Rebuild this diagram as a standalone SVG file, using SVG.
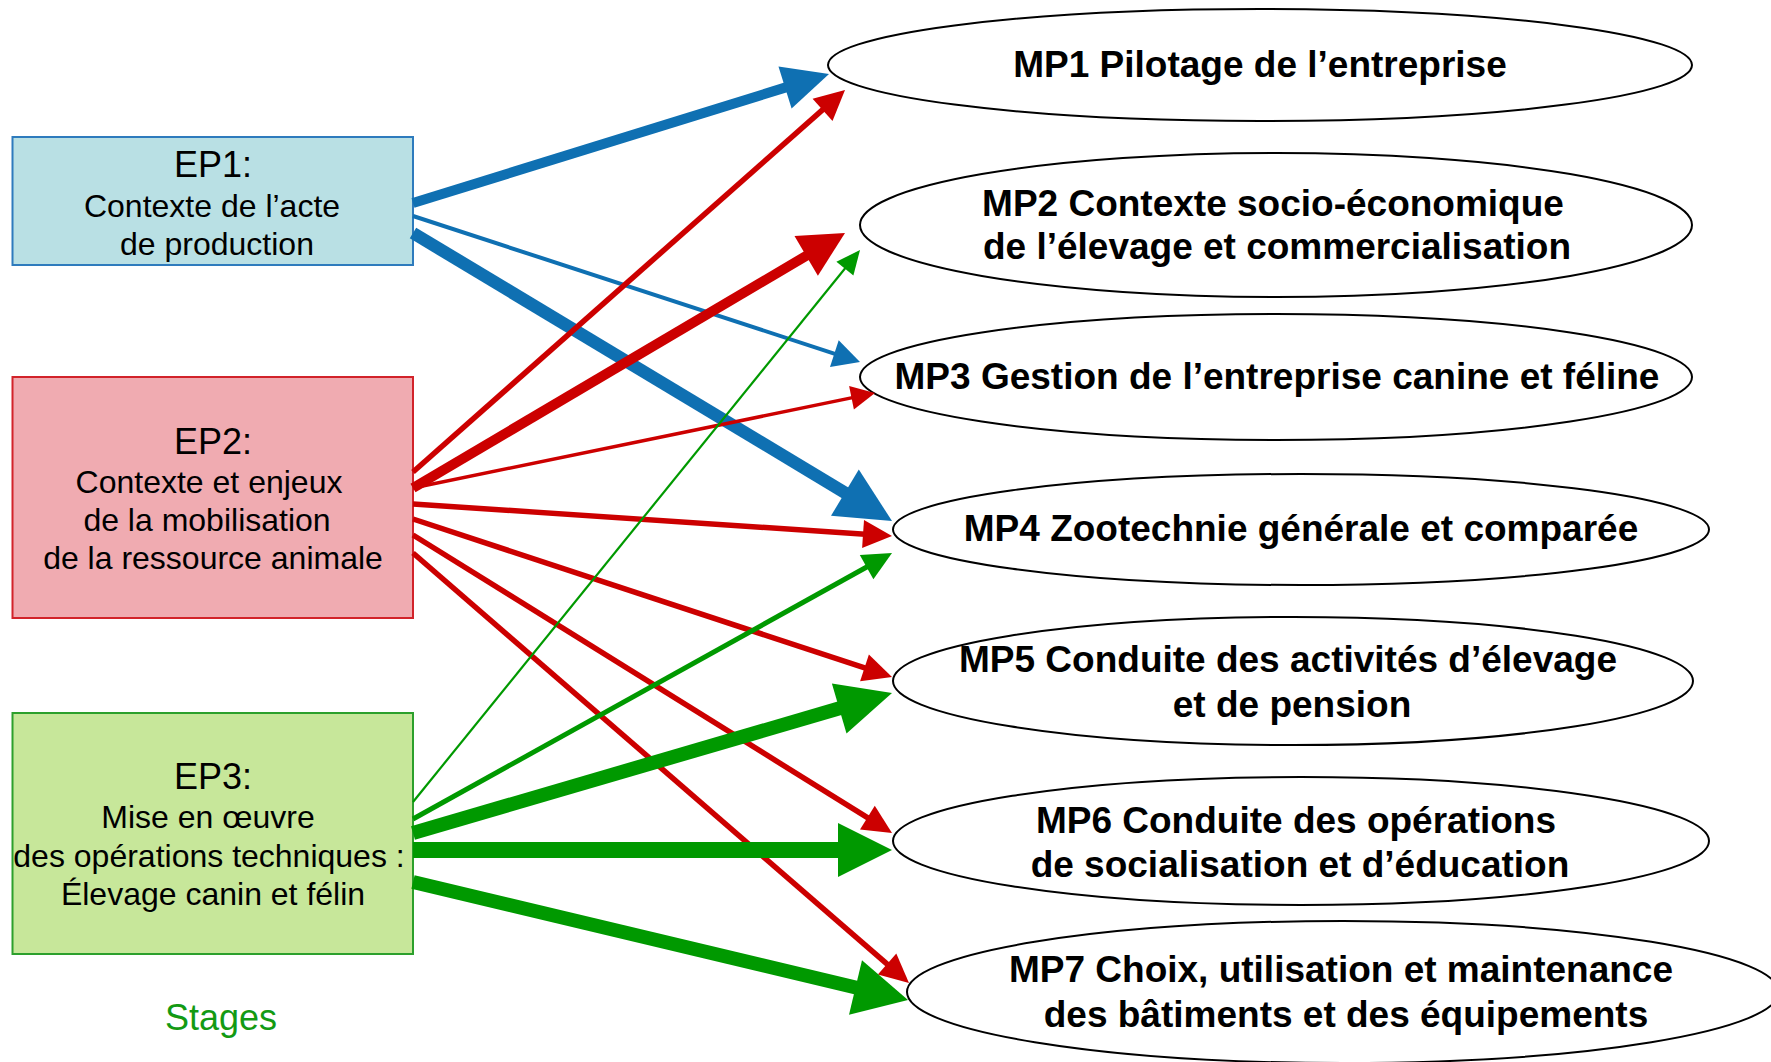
<svg xmlns="http://www.w3.org/2000/svg" width="1771" height="1062" viewBox="0 0 1771 1062">
<style>
.box{stroke-width:2}
.ep{font-family:"Liberation Sans",Arial,sans-serif;font-size:32px;fill:#000;text-anchor:middle}
.ept{font-size:36px}
.mp{fill:#fff;stroke:#000;stroke-width:2}
.mpt{font-family:"Liberation Sans",Arial,sans-serif;font-weight:bold;font-size:37px;fill:#000;text-anchor:middle}
.b{stroke:#0f70b2;fill:none}
.bh{fill:#0f70b2}
.r{stroke:#cc0000;fill:none}
.rh{fill:#cc0000}
.g{stroke:#009900;fill:none}
.gh{fill:#009900}
</style>
<rect width="1771" height="1062" fill="#fff"/>
<g id="EP1">
<rect class="box" x="12.5" y="137" width="400.5" height="128" fill="#b9e0e4" stroke="#2e7bbd"/>
<text class="ep ept" x="213" y="177">EP1:</text>
<text class="ep" x="212" y="217">Contexte de l’acte</text>
<text class="ep" x="217" y="255">de production</text>
</g>
<g id="EP2">
<rect class="box" x="12.5" y="377" width="400.5" height="241" fill="#f0abb1" stroke="#d2232a"/>
<text class="ep ept" x="213" y="454">EP2:</text>
<text class="ep" x="209" y="493">Contexte et enjeux</text>
<text class="ep" x="207" y="531">de la mobilisation</text>
<text class="ep" x="213" y="569">de la ressource animale</text>
</g>
<g id="EP3">
<rect class="box" x="12.5" y="713" width="400.5" height="241" fill="#c7e79a" stroke="#2ca02c"/>
<text class="ep ept" x="213" y="789">EP3:</text>
<text class="ep" x="208" y="828">Mise en œuvre</text>
<text class="ep" x="209" y="867">des opérations techniques :</text>
<text class="ep" x="213" y="905">Élevage canin et félin</text>
</g>
<g id="stages">
<text x="221" y="1030" font-family="Liberation Sans, Arial, sans-serif" font-size="36" fill="#139a13" text-anchor="middle">Stages</text>
</g>
<g id="MP1">
<ellipse class="mp" cx="1260" cy="65" rx="432" ry="56"/>
<text class="mpt" x="1260" y="77">MP1 Pilotage de l’entreprise</text>
</g>
<g id="MP2">
<ellipse class="mp" cx="1276" cy="225" rx="416" ry="72"/>
<text class="mpt" x="1273" y="216">MP2 Contexte socio-économique</text>
<text class="mpt" x="1277" y="259">de l’élevage et commercialisation</text>
</g>
<g id="MP3">
<ellipse class="mp" cx="1276" cy="377" rx="416" ry="63"/>
<text class="mpt" x="1277" y="389">MP3 Gestion de l’entreprise canine et féline</text>
</g>
<g id="MP4">
<ellipse class="mp" cx="1301" cy="529.5" rx="408" ry="55.5"/>
<text class="mpt" x="1301" y="541">MP4 Zootechnie générale et comparée</text>
</g>
<g id="MP5">
<ellipse class="mp" cx="1293" cy="681" rx="400" ry="64"/>
<text class="mpt" x="1288" y="672">MP5 Conduite des activités d’élevage</text>
<text class="mpt" x="1292" y="716.5">et de pension</text>
</g>
<g id="MP6">
<ellipse class="mp" cx="1301" cy="841" rx="408" ry="64"/>
<text class="mpt" x="1296" y="832.5">MP6 Conduite des opérations</text>
<text class="mpt" x="1300" y="877">de socialisation et d’éducation</text>
</g>
<g id="MP7">
<ellipse class="mp" cx="1343" cy="992" rx="436" ry="71"/>
<text class="mpt" x="1341" y="982">MP7 Choix, utilisation et maintenance</text>
<text class="mpt" x="1346" y="1027">des bâtiments et des équipements</text>
</g>
<g id="connectors">
<line class="b" x1="413" y1="203" x2="793.9" y2="84.9" stroke-width="10"/>
<polygon class="bh" points="829,74 791.6,108.6 778.5,66.6"/>
<line class="b" x1="413" y1="216" x2="839.5" y2="355.3" stroke-width="4"/>
<polygon class="bh" points="860,362 830,366.9 838.7,340.3"/>
<line class="b" x1="413" y1="233" x2="854.3" y2="498.3" stroke-width="12.5"/>
<polygon class="bh" points="892,521 831,515.8 858.8,469.6"/>
<line class="r" x1="413" y1="472" x2="827" y2="105.9" stroke-width="5.5"/>
<polygon class="rh" points="845,90 832.5,121.1 812.6,98.7"/>
<line class="r" x1="413" y1="488" x2="814" y2="251.3" stroke-width="10"/>
<polygon class="rh" points="845,233 817.9,275.7 794.5,236.1"/>
<line class="r" x1="413" y1="488" x2="856.2" y2="396.9" stroke-width="3.5"/>
<polygon class="rh" points="875,393 853.9,409.6 849.1,386.1"/>
<line class="r" x1="413" y1="504" x2="868.9" y2="534.5" stroke-width="5.5"/>
<polygon class="rh" points="892,536 862.1,548 864,520.1"/>
<line class="r" x1="413" y1="519" x2="870" y2="669.7" stroke-width="5.5"/>
<polygon class="rh" points="892,677 860.1,681.2 868.9,654.6"/>
<line class="r" x1="413" y1="535" x2="872.3" y2="820.7" stroke-width="5.5"/>
<polygon class="rh" points="892,833 860,829.6 874.8,805.8"/>
<line class="r" x1="413" y1="553" x2="891.5" y2="967.8" stroke-width="5.5"/>
<polygon class="rh" points="909,983 877.9,974.6 896.3,953.4"/>
<line class="g" x1="413" y1="802" x2="848" y2="264.8" stroke-width="2.2"/>
<polygon class="gh" points="860,250 853.4,275.6 836.4,261.8"/>
<line class="g" x1="413" y1="819" x2="871.7" y2="564.3" stroke-width="5"/>
<polygon class="gh" points="892,553 873.4,579.3 859.8,554.9"/>
<line class="g" x1="413" y1="833" x2="849.8" y2="705.3" stroke-width="14"/>
<polygon class="gh" points="892,693 846.5,733.4 831.9,683.4"/>
<line class="g" x1="413" y1="850" x2="849" y2="850" stroke-width="16"/>
<polygon class="gh" points="892,850 838,877 838,823"/>
<line class="g" x1="413" y1="882" x2="866.2" y2="990" stroke-width="14"/>
<polygon class="gh" points="908,1000 849,1014.7 862,960.3"/>
</g>
</svg>
